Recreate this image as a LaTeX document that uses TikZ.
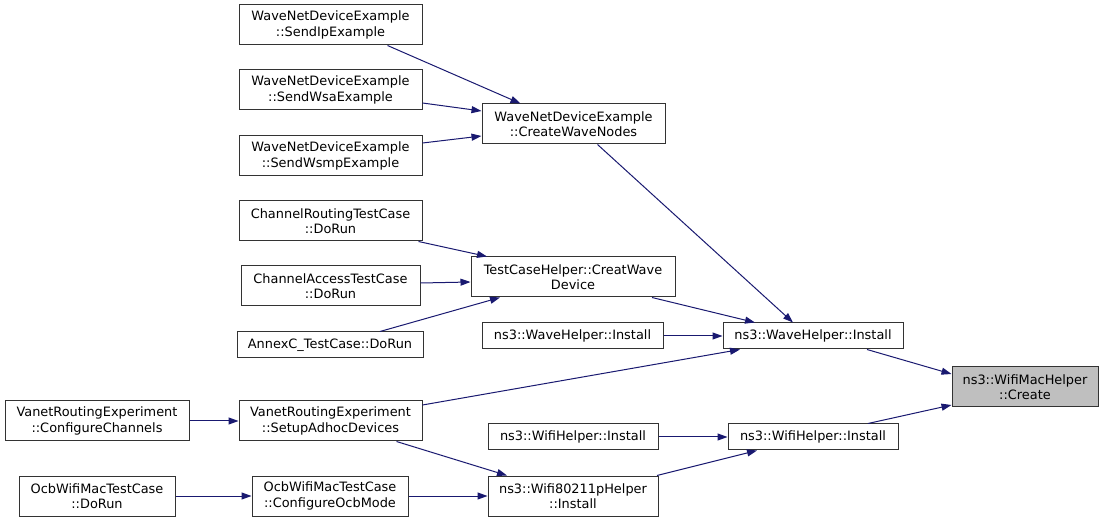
\documentclass[tikz,border=0pt]{standalone}
\usepackage{fontspec}
\setmainfont{DejaVu Sans}
\usetikzlibrary{arrows.meta}
\definecolor{edgeblue}{HTML}{191970}
\definecolor{boxline}{HTML}{333333}
\definecolor{hlfill}{HTML}{BFBFBF}
\tikzset{
  fn/.style={draw=boxline, line width=1pt, fill=white, inner sep=0pt, align=center,
    font=\fontsize{12.9}{15.5}\selectfont},
  two/.style={minimum height=40pt},
  one/.style={minimum height=26pt},
  call/.style={draw=edgeblue, line width=1pt, -{Triangle[length=10pt,width=7pt]}}
}
\begin{document}
\begin{tikzpicture}[x=1pt,y=-1pt]
\useasboundingbox (0,0) rectangle (1104,521);
\node[fn,two,minimum width=183pt] (sendip) at (330.5,25) {WaveNetDeviceExample\\::SendIpExample};
\node[fn,two,minimum width=183pt] (sendwsa) at (330.5,90) {WaveNetDeviceExample\\::SendWsaExample};
\node[fn,two,minimum width=183pt] (sendwsmp) at (330.5,156) {WaveNetDeviceExample\\::SendWsmpExample};
\node[fn,two,minimum width=183pt] (cwn) at (573.5,124) {WaveNetDeviceExample\\::CreateWaveNodes};
\node[fn,two,minimum width=183pt] (chrout) at (330.5,221) {ChannelRoutingTestCase\\::DoRun};
\node[fn,two,minimum width=179pt] (chacc) at (330.5,286) {ChannelAccessTestCase\\::DoRun};
\node[fn,one,minimum width=186pt] (annexc) at (330,345) {AnnexC\_TestCase::DoRun};
\node[fn,two,minimum width=204pt] (tch) at (573,277) {TestCaseHelper::CreatWave\\Device};
\node[fn,one,minimum width=181pt] (wavel) at (572.5,336) {ns3::WaveHelper::Install};
\node[fn,one,minimum width=180pt] (wavem) at (813,336) {ns3::WaveHelper::Install};
\node[fn,two,minimum width=146pt,fill=hlfill] (create) at (1025,387) {ns3::WifiMacHelper\\::Create};
\node[fn,two,minimum width=184pt] (confchan) at (97,421) {VanetRoutingExperiment\\::ConfigureChannels};
\node[fn,two,minimum width=183pt] (setup) at (330.5,421) {VanetRoutingExperiment\\::SetupAdhocDevices};
\node[fn,one,minimum width=170pt] (wifil) at (573,437) {ns3::WifiHelper::Install};
\node[fn,one,minimum width=170pt] (wifir) at (813,437) {ns3::WifiHelper::Install};
\node[fn,two,minimum width=156pt] (ocbrun) at (97,496) {OcbWifiMacTestCase\\::DoRun};
\node[fn,two,minimum width=156pt] (ocbmode) at (330,496) {OcbWifiMacTestCase\\::ConfigureOcbMode};
\node[fn,two,minimum width=170pt] (w80211p) at (573,496) {ns3::Wifi80211pHelper\\::Install};

\draw[call] ([xshift=57pt]sendip.south) -- ([xshift=-53pt]cwn.north);
\draw[call] ([yshift=-13pt]sendwsa.east) -- ([yshift=13pt]cwn.west);
\draw[call] ([yshift=13pt]sendwsmp.east) -- ([yshift=-12pt]cwn.west);
\draw[call] ([xshift=24pt]cwn.south) -- ([xshift=-20pt]wavem.north);
\draw[call] ([xshift=88pt]chrout.south) -- ([xshift=-86pt]tch.north);
\draw[call] ([yshift=3pt]chacc.east) -- ([yshift=-5pt]tch.west);
\draw[call] ([xshift=50pt]annexc.north) -- ([xshift=-73pt]tch.south);
\draw[call] ([xshift=79pt]tch.south) -- ([xshift=-58pt]wavem.north);
\draw[call] (wavel.east) -- (wavem.west);
\draw[call] ([yshift=16pt]setup.east) -- ([xshift=-73pt]wavem.south);
\draw[call] ([xshift=54pt]wavem.south) -- ([yshift=13pt]create.west);
\draw[call] ([xshift=55pt]wifir.north) -- ([yshift=-18pt]create.west);
\draw[call] (confchan.east) -- (setup.west);
\draw[call] (wifil.east) -- (wifir.west);
\draw[call] ([xshift=66pt]setup.south) -- ([xshift=-66pt]w80211p.north);
\draw[call] ([xshift=84pt]w80211p.north) -- ([xshift=-56pt]wifir.south);
\draw[call] (ocbrun.east) -- (ocbmode.west);
\draw[call] (ocbmode.east) -- (w80211p.west);
\end{tikzpicture}
\end{document}
